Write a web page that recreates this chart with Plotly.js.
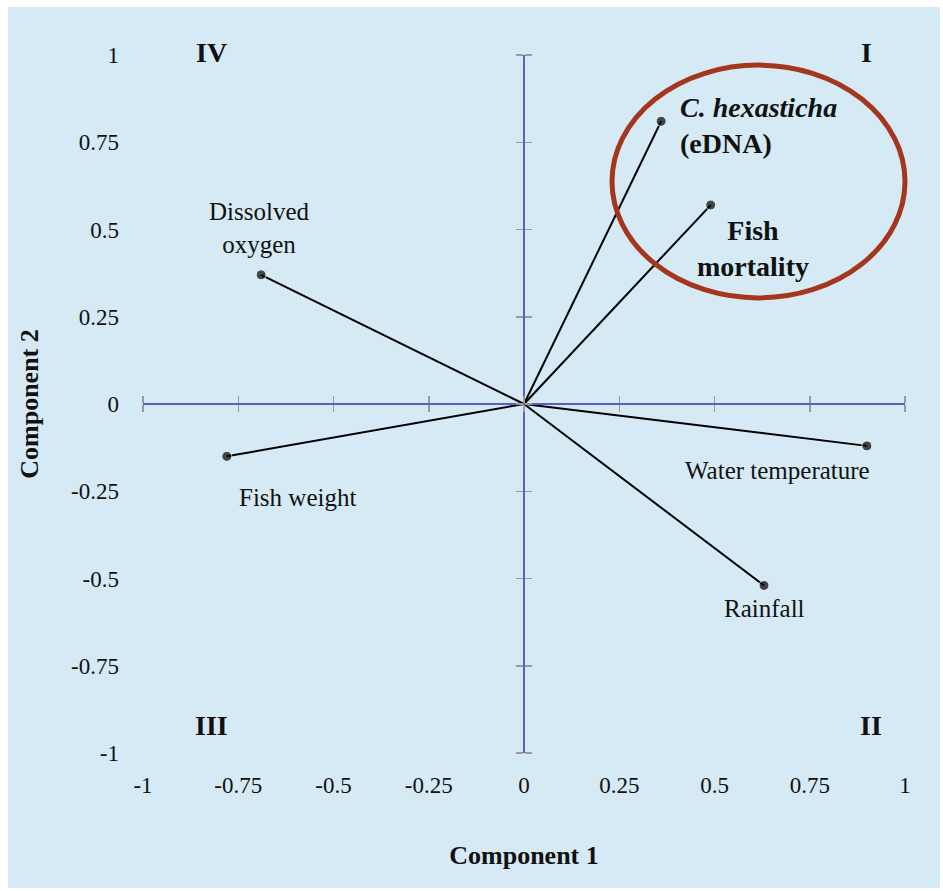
<!DOCTYPE html>
<html><head><meta charset="utf-8">
<script src="https://cdn.plot.ly/plotly-3.0.1.min.js"></script>
<style>
html,body{margin:0;padding:0;background:#fff;}
#plot{position:absolute;left:8px;top:7px;width:932px;height:881px;}
</style></head>
<body><div id="plot"></div>
<script>
// PCA loadings (Component 1, Component 2)
const varNames = ["C. hexasticha (eDNA)", "Fish mortality", "Dissolved oxygen", "Fish weight", "Water temperature", "Rainfall"];
const varLabels = ["<b><i>C. hexasticha</i></b><br><b>(eDNA)</b>", "<b>Fish</b><br><b>mortality</b>", "Dissolved<br>oxygen", "Fish weight", "Water temperature", "Rainfall"];
const comp1 = [0.36, 0.49, -0.69, -0.78, 0.90, 0.63];
const comp2 = [0.81, 0.57, 0.37, -0.15, -0.12, -0.52];
const tickVals = [-1, -0.75, -0.5, -0.25, 0, 0.25, 0.5, 0.75, 1];
const tickText = ["-1", "-0.75", "-0.5", "-0.25", "0", "0.25", "0.5", "0.75", "1"];
const quadrantNames = ["I", "II", "III", "IV"];
const quadrantX = [0.90, 0.91, -0.82, -0.82];
const quadrantY = [1.0, -0.92, -0.92, 1.0];

const BG = "#d5eaf4";
const serif = "Liberation Serif, Times New Roman, serif";

// label offsets in pixels (styling)
const labelStyle = [
  {xs: 17, ys: -4, xa: "left", al: "left", size: 28},
  {xs: 42, ys: -43, xa: "center", al: "center", size: 28},
  {xs: -2, ys: 47, xa: "center", al: "center", size: 25},
  {xs: 71, ys: -41, xa: "center", al: "center", size: 25},
  {xs: -89, ys: -25, xa: "center", al: "center", size: 25},
  {xs: 0, ys: -23, xa: "center", al: "center", size: 25}
];

const traces = varNames.map((n, i) => ({
  type: "scatter", mode: "lines+markers", name: n,
  x: [0, comp1[i]], y: [0, comp2[i]],
  line: {color: "#000", width: 2},
  marker: {color: "#000", size: [0, 10]},
  hoverinfo: "skip", showlegend: false
}));

const annotations = varNames.map((n, i) => ({
  x: comp1[i], y: comp2[i], xref: "x", yref: "y",
  text: varLabels[i], showarrow: false,
  xshift: labelStyle[i].xs, yshift: labelStyle[i].ys,
  xanchor: labelStyle[i].xa, yanchor: "middle", align: labelStyle[i].al,
  font: {family: serif, size: labelStyle[i].size, color: "#111"}
}));
quadrantNames.forEach((q, i) => annotations.push({
  x: (quadrantX[i] + 1) / 2, y: (quadrantY[i] + 1) / 2, xref: "paper", yref: "paper",
  xanchor: "center", yanchor: "middle",
  text: "<b>" + q + "</b>", showarrow: false,
  yshift: quadrantY[i] > 0 ? 3 : 0,
  font: {family: serif, size: 28, color: "#111"}
}));

const baseAxis = {
  range: [-1, 1], showgrid: false, zeroline: false, showline: false,
  tickvals: tickVals, ticktext: tickText, ticks: "",
  tickfont: {family: serif, size: 23, color: "#111"},
  fixedrange: true
};
const overlayTick = (side, overlay, pos, dir) => ({
  range: [-1, 1], overlaying: overlay, anchor: "free", position: pos,
  showgrid: false, zeroline: false, showline: true,
  linecolor: "#5a5fc4", linewidth: 2,
  tickvals: tickVals, showticklabels: false,
  ticks: dir, ticklen: 7, tickwidth: 1.5, tickcolor: "#9a9a9a",
  side: side, fixedrange: true
});

const layout = {
  width: 932, height: 881,
  margin: {l: 135, r: 35, t: 48, b: 135},
  paper_bgcolor: BG, plot_bgcolor: BG,
  xaxis: Object.assign({}, baseAxis, {
    ticklabelstandoff: 16,
    title: {text: "<b>Component 1</b>", font: {family: serif, size: 26, color: "#111"}, standoff: 48}
  }),
  yaxis: Object.assign({}, baseAxis, {
    ticklabelstandoff: 23,
    title: {text: "<b>Component 2</b>", font: {family: serif, size: 26, color: "#111"}, standoff: 24}
  }),
  xaxis2: overlayTick("bottom", "x", 0.5, "outside"),
  xaxis3: overlayTick("top", "x", 0.5, "outside"),
  yaxis2: overlayTick("left", "y", 0.5, "outside"),
  yaxis3: overlayTick("right", "y", 0.5, "outside"),
  annotations: annotations,
  shapes: [{
    type: "circle", xref: "paper", yref: "paper",
    x0: (0.231 + 1) / 2, x1: (1.0 + 1) / 2, y0: (0.304 + 1) / 2, y1: (0.971 + 1) / 2,
    line: {color: "#a3361d", width: 5}
  }]
};

// dummy traces to register overlay axes
traces.push({type: "scatter", x: [], y: [], xaxis: "x2", yaxis: "y2", showlegend: false, hoverinfo: "skip"});
traces.push({type: "scatter", x: [], y: [], xaxis: "x3", yaxis: "y3", showlegend: false, hoverinfo: "skip"});

Plotly.newPlot("plot", traces, layout, {displayModeBar: false, staticPlot: true});
</script></body></html>
